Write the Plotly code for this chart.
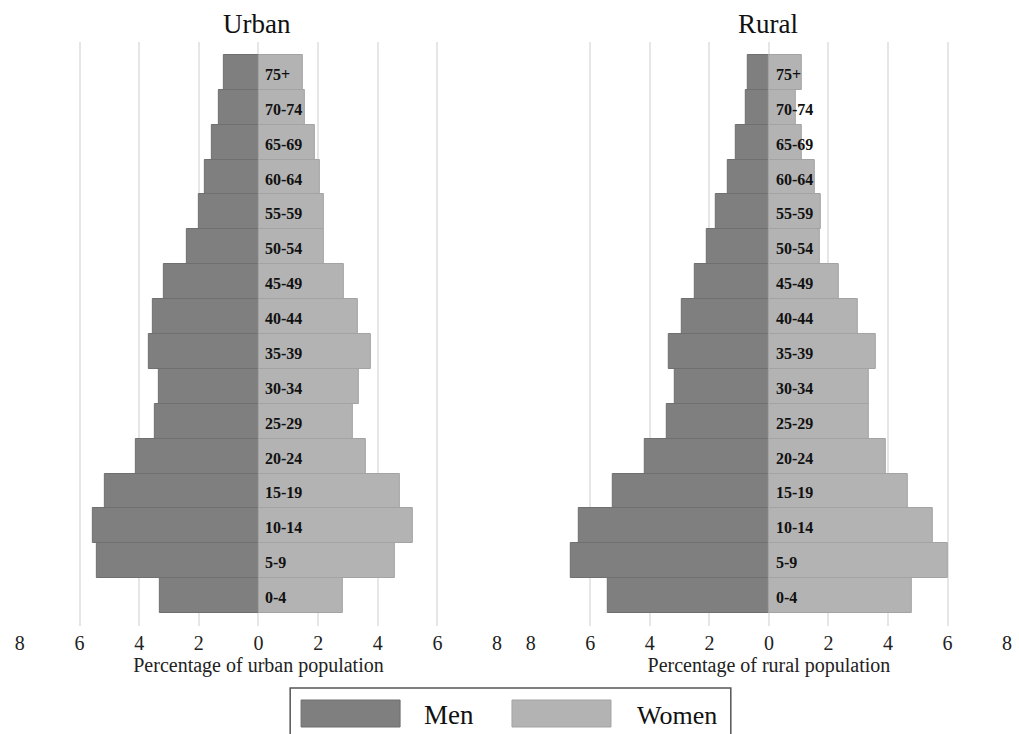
import plotly.graph_objects as go

age_groups = ["0-4", "5-9", "10-14", "15-19", "20-24", "25-29", "30-34", "35-39",
              "40-44", "45-49", "50-54", "55-59", "60-64", "65-69", "70-74", "75+"]

urban_men = [3.32, 5.43, 5.55, 5.15, 4.11, 3.47, 3.33, 3.69, 3.54, 3.18, 2.40, 2.00, 1.79, 1.55, 1.33, 1.16]
urban_women = [2.82, 4.57, 5.19, 4.73, 3.60, 3.16, 3.38, 3.75, 3.33, 2.85, 2.19, 2.18, 2.05, 1.90, 1.56, 1.50]
rural_men = [5.42, 6.66, 6.40, 5.26, 4.18, 3.44, 3.15, 3.38, 2.92, 2.50, 2.10, 1.79, 1.37, 1.11, 0.78, 0.72]
rural_women = [4.81, 6.02, 5.49, 4.68, 3.93, 3.34, 3.34, 3.60, 2.98, 2.36, 1.70, 1.74, 1.53, 1.12, 0.90, 1.12]

tick_vals = [-8, -6, -4, -2, 0, 2, 4, 6, 8]
tick_text = ["8", "6", "4", "2", "0", "2", "4", "6", "8"]

MEN_COLOR = "#7f7f7f"
WOMEN_COLOR = "#b3b3b3"
FONT = "Liberation Serif"

fig = go.Figure()

panels = [
    ("x", "y", urban_men, urban_women),
    ("x2", "y2", rural_men, rural_women),
]
for xa, ya, men, women in panels:
    fig.add_trace(go.Bar(
        y=age_groups, x=[-v for v in men], orientation="h", xaxis=xa, yaxis=ya,
        name="Men", marker=dict(color=MEN_COLOR, line=dict(color="#6f6f6f", width=1)),
        showlegend=False))
    fig.add_trace(go.Bar(
        y=age_groups, x=women, orientation="h", xaxis=xa, yaxis=ya,
        name="Women", marker=dict(color=WOMEN_COLOR, line=dict(color="#a3a3a3", width=1)),
        showlegend=False))
    for ag in age_groups:
        fig.add_annotation(x=0, y=ag, xref=xa, yref=ya, text="<b>%s</b>" % ag,
                           showarrow=False, xanchor="left", xshift=5, yshift=-2,
                           font=dict(family=FONT, size=16, color="#111111"))

axis_common = dict(range=[-8, 8], tickvals=tick_vals, ticktext=tick_text,
                   showgrid=True, gridcolor="#e6e6e6", gridwidth=1.5, zeroline=False,
                   showline=False, ticks="", tickfont=dict(family=FONT, size=20, color="#222222"),
                   ticklabelstandoff=3, fixedrange=True)
yaxis_common = dict(range=[-0.87, 15.87], showticklabels=False, showgrid=False,
                    zeroline=False, showline=False, ticks="")

fig.update_layout(
    width=1019, height=734,
    margin=dict(l=0, r=0, t=42, b=108),
    paper_bgcolor="white", plot_bgcolor="white",
    barmode="relative", bargap=0,
    font=dict(family=FONT, color="#222222"),
    xaxis=dict(domain=[15/1019, 497/1019], anchor="y",
               title=dict(text="Percentage of urban population", standoff=0,
                          font=dict(family=FONT, size=20, color="#222222")),
               **axis_common),
    xaxis2=dict(domain=[531/1019, 1012/1019], anchor="y2",
                title=dict(text="Percentage of rural population", standoff=0,
                           font=dict(family=FONT, size=20, color="#222222")),
                **axis_common),
    yaxis=dict(domain=[0, 1], anchor="x", **yaxis_common),
    yaxis2=dict(domain=[0, 1], anchor="x2", **yaxis_common),
)

# Panel titles
for txt, xc in [("Urban", 255/1019), ("Rural", 771/1019)]:
    fig.add_annotation(x=xc, y=1, xref="paper", yref="paper", yshift=18,
                       text=txt, showarrow=False, xanchor="center", yanchor="middle",
                       font=dict(family=FONT, size=27, color="#111111"))

# Legend (drawn manually to get wide swatches)
def px_x(p):
    return p / 1019

plot_h = 734 - 42 - 108
def px_y(p):
    return (734 - 108 - p) / plot_h

fig.add_shape(type="rect", xref="paper", yref="paper",
              x0=px_x(288), x1=px_x(733), y0=px_y(745), y1=px_y(688),
              line=dict(color="#555555", width=1.5), fillcolor="white")
fig.add_shape(type="rect", xref="paper", yref="paper",
              x0=px_x(299), x1=px_x(399), y0=px_y(727), y1=px_y(700),
              line=dict(color="#6f6f6f", width=1), fillcolor=MEN_COLOR)
fig.add_shape(type="rect", xref="paper", yref="paper",
              x0=px_x(512), x1=px_x(612), y0=px_y(727), y1=px_y(700),
              line=dict(color="#a3a3a3", width=1), fillcolor=WOMEN_COLOR)
fig.add_annotation(x=px_x(421), y=px_y(715), xref="paper", yref="paper", text="Men",
                   showarrow=False, xanchor="left", yanchor="middle",
                   font=dict(family=FONT, size=27, color="#111111"))
fig.add_annotation(x=px_x(636), y=px_y(715), xref="paper", yref="paper", text="Women",
                   showarrow=False, xanchor="left", yanchor="middle",
                   font=dict(family=FONT, size=26, color="#111111"))

fig.write_html("out.html")
